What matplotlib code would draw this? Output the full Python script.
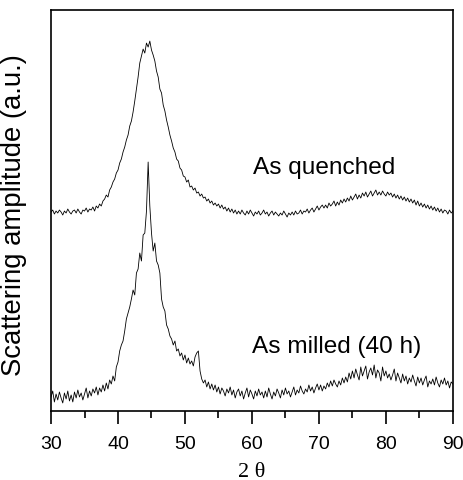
import matplotlib
matplotlib.use("Agg")
import matplotlib.pyplot as plt
from matplotlib.ticker import MultipleLocator

two_theta = [
    30.0, 30.25, 30.5, 30.75, 31.0, 31.25, 31.5, 31.75, 32.0, 32.25, 32.5, 32.75,
    33.0, 33.25, 33.5, 33.75, 34.0, 34.25, 34.5, 34.75, 35.0, 35.25, 35.5, 35.75,
    36.0, 36.25, 36.5, 36.75, 37.0, 37.25, 37.5, 37.75, 38.0, 38.25, 38.5, 38.75,
    39.0, 39.25, 39.5, 39.75, 40.0, 40.25, 40.5, 40.75, 41.0, 41.25, 41.5, 41.75,
    42.0, 42.25, 42.5, 42.75, 43.0, 43.25, 43.5, 43.75, 44.0, 44.25, 44.5, 44.75,
    45.0, 45.25, 45.5, 45.75, 46.0, 46.25, 46.5, 46.75, 47.0, 47.25, 47.5, 47.75,
    48.0, 48.25, 48.5, 48.75, 49.0, 49.25, 49.5, 49.75, 50.0, 50.25, 50.5, 50.75,
    51.0, 51.25, 51.5, 51.75, 52.0, 52.25, 52.5, 52.75, 53.0, 53.25, 53.5, 53.75,
    54.0, 54.25, 54.5, 54.75, 55.0, 55.25, 55.5, 55.75, 56.0, 56.25, 56.5, 56.75,
    57.0, 57.25, 57.5, 57.75, 58.0, 58.25, 58.5, 58.75, 59.0, 59.25, 59.5, 59.75,
    60.0, 60.25, 60.5, 60.75, 61.0, 61.25, 61.5, 61.75, 62.0, 62.25, 62.5, 62.75,
    63.0, 63.25, 63.5, 63.75, 64.0, 64.25, 64.5, 64.75, 65.0, 65.25, 65.5, 65.75,
    66.0, 66.25, 66.5, 66.75, 67.0, 67.25, 67.5, 67.75, 68.0, 68.25, 68.5, 68.75,
    69.0, 69.25, 69.5, 69.75, 70.0, 70.25, 70.5, 70.75, 71.0, 71.25, 71.5, 71.75,
    72.0, 72.25, 72.5, 72.75, 73.0, 73.25, 73.5, 73.75, 74.0, 74.25, 74.5, 74.75,
    75.0, 75.25, 75.5, 75.75, 76.0, 76.25, 76.5, 76.75, 77.0, 77.25, 77.5, 77.75,
    78.0, 78.25, 78.5, 78.75, 79.0, 79.25, 79.5, 79.75, 80.0, 80.25, 80.5, 80.75,
    81.0, 81.25, 81.5, 81.75, 82.0, 82.25, 82.5, 82.75, 83.0, 83.25, 83.5, 83.75,
    84.0, 84.25, 84.5, 84.75, 85.0, 85.25, 85.5, 85.75, 86.0, 86.25, 86.5, 86.75,
    87.0, 87.25, 87.5, 87.75, 88.0, 88.25, 88.5, 88.75, 89.0, 89.25, 89.5, 89.75,
    90.0,
]

as_quenched = [
    199, 201, 197, 200, 198, 201, 199, 196, 200, 198, 202, 199,
    197, 200, 201, 198, 202, 199, 197, 201, 200, 203, 199, 202,
    201, 204, 200, 205, 203, 207, 205, 210, 212, 216, 214, 221,
    224, 229, 232, 238, 241, 248, 252, 259, 264, 271, 276, 285,
    290, 299, 310, 322, 334, 348, 355, 362, 358, 368, 364, 370,
    361, 356, 350, 340, 334, 322, 318, 306, 300, 291, 284, 276,
    270, 263, 259, 252, 250, 243, 241, 235, 234, 229, 231, 224,
    225, 221, 223, 218, 219, 215, 217, 213, 214, 210, 212, 208,
    210, 206, 208, 205, 207, 203, 206, 202, 204, 200, 203, 199,
    202, 198, 201, 197, 200, 197, 201, 198, 196, 200, 197, 201,
    198, 195, 199, 197, 200, 196, 198, 201, 197, 199, 195, 198,
    200, 196, 199, 197, 195, 198, 196, 200, 197, 194, 198, 196,
    199, 196, 200, 197, 198, 201, 197, 200, 199, 202, 198, 201,
    203, 199, 202, 205, 201, 204, 206, 203, 206, 203, 208, 205,
    207, 210, 205, 209, 206, 211, 208, 212, 209, 213, 210, 215,
    211, 214, 217, 212, 216, 213, 218, 215, 219, 214, 217, 220,
    215, 218, 221, 216, 219, 216, 220, 217, 215, 219, 216, 218,
    214, 217, 213, 216, 212, 215, 211, 214, 210, 213, 209, 212,
    208, 211, 206, 210, 205, 208, 204, 207, 203, 206, 202, 205,
    201, 204, 200, 203, 199, 202, 198, 201, 200, 197, 201, 198,
    200,
]

as_milled = [
    14, 20, 9, 17, 11, 19, 13, 8, 18, 12, 20, 10,
    16, 9, 19, 13, 21, 14, 18, 11, 17, 23, 13, 20,
    15, 22, 18, 24, 16, 23, 19, 26, 20, 28, 22, 31,
    27, 35, 30, 44, 49, 60, 66, 70, 80, 92, 98, 104,
    112, 121, 116, 138, 142, 158, 150, 176, 178, 200, 249, 205,
    178, 160, 168, 150, 146, 138, 112, 104, 100, 86, 82, 75,
    72, 66, 70, 60, 62, 55, 58, 51, 56, 48, 53, 47,
    50, 45, 54, 58, 60, 40, 32, 28, 31, 24, 29, 22,
    27, 21, 26, 19, 24, 17, 23, 20, 15, 22, 18, 24,
    16, 21, 13, 19, 22, 15, 20, 12, 18, 23, 14, 21,
    17, 12, 20, 15, 22, 16, 19, 13, 20, 14, 23, 17,
    12, 19, 15, 22, 18, 13, 21, 16, 23, 17, 20, 14,
    19, 24, 16, 21, 18, 25, 20, 17, 22, 19, 26, 20,
    24, 18, 23, 27, 21, 26, 20, 25, 22, 28, 24, 30,
    25, 31, 27, 24, 30, 26, 33, 28, 34, 29, 38, 32,
    40, 33, 42, 36, 31, 44, 35, 40, 45, 32, 39, 43,
    36, 46, 33, 41, 38, 30, 44, 35, 40, 33, 37, 31,
    36, 42, 30, 38, 33, 28, 37, 30, 35, 27, 33, 29,
    36, 30, 25, 34, 28, 33, 26, 31, 35, 24, 30, 27,
    32, 26, 34, 28, 24, 31, 27, 33, 26, 30, 23, 29,
    27,
]

labels = ["As quenched", "As milled (40 h)"]
label_x = [60.1, 60.0]
label_y = [244, 65]

fig = plt.figure(figsize=(4.64, 4.81), dpi=100)
ax = fig.add_axes([0.110, 0.1435, 0.866, 0.8335])

ax.plot(two_theta, as_quenched, color="black", lw=0.6)
ax.plot(two_theta, as_milled, color="black", lw=0.6)

for t, x, y in zip(labels, label_x, label_y):
    ax.text(x, y, t, fontsize=17.6, family="Liberation Sans", ha="left", va="center")

ax.set_xlim(30, 90)
ax.set_ylim(0, 401)
ax.xaxis.set_major_locator(MultipleLocator(10))
ax.xaxis.set_minor_locator(MultipleLocator(5))
ax.tick_params(axis="x", which="major", direction="out", length=9.5, width=1.2,
               labelsize=14, pad=8)
ax.tick_params(axis="x", which="minor", direction="out", length=5, width=1.2)
for lab in ax.get_xticklabels():
    lab.set_family("Liberation Sans")
ax.set_yticks([])
for s in ax.spines.values():
    s.set_linewidth(1.2)

ax.set_xlabel("2 θ", fontsize=16, family="Liberation Serif", labelpad=7)
ax.set_ylabel("Scattering amplitude (a.u.)", fontsize=19.8, family="Liberation Sans")
ax.yaxis.set_label_coords(-0.06, 0.49)

fig.savefig("out.png", dpi=100)
